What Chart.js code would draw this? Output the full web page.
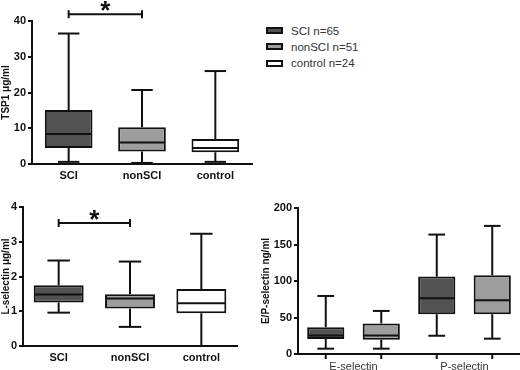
<!DOCTYPE html>
<html>
<head>
<meta charset="utf-8">
<script src="https://cdn.jsdelivr.net/npm/chart.js@4.4.1/dist/chart.umd.min.js"></script>
<style>
  body { margin: 0; background: #fff; }
  #page { position: relative; width: 520px; height: 370px; overflow: hidden; font-family: Arial, "Liberation Sans", sans-serif; }
  .panel { position: absolute; }
  #legend { position: absolute; left: 266px; top: 22.5px; font-size: 11.5px; color: #333; }
  .row { height: 16.3px; display: flex; align-items: center; }
  .swatch { width: 13px; height: 3px; border: 2px solid #111; margin-right: 8px; }
</style>
</head>
<body>
<div id="page">
  <canvas id="tsp" class="panel" width="260" height="185" style="left:0;top:0"></canvas>
  <canvas id="lsel" class="panel" width="260" height="185" style="left:0;top:185px"></canvas>
  <canvas id="epsel" class="panel" width="260" height="185" style="left:260px;top:185px"></canvas>
  <div id="legend"></div>
</div>
<script>
// groups and legend text
const groups = ['SCI', 'nonSCI', 'control'];
const legendLabels = ['SCI n=65', 'nonSCI n=51', 'control n=24'];
const groupColors = ['#525252', '#9d9d9d', '#ffffff'];

// TSP1 (ug/ml): whisker min, Q1, median, Q3, whisker max per group
const tspMin = [0.6, 0.3, 0.6];
const tspQ1 = [4.5, 3.5, 3.3];
const tspMed = [8.4, 6.0, 4.5];
const tspQ3 = [15.1, 10.3, 7.0];
const tspMax = [36.5, 20.7, 26.0];
const tspTicks = [0, 10, 20, 30, 40];

// L-selectin (ug/ml)
const lselMin = [0.96, 0.55, 0.0];
const lselQ1 = [1.25, 1.08, 0.94];
const lselMed = [1.48, 1.37, 1.23];
const lselQ3 = [1.75, 1.49, 1.64];
const lselMax = [2.46, 2.43, 3.23];
const lselTicks = [0, 1, 2, 3, 4];

// E/P-selectin (ng/ml), SCI and nonSCI only
const selLabels = ['E-selectin', 'P-selectin'];
const selSciMin = [7.3, 25];
const selSciQ1 = [20.5, 54.5];
const selSciMed = [25.5, 76.4];
const selSciQ3 = [36.8, 106];
const selSciMax = [79.5, 163.6];
const selNonMin = [7.3, 21];
const selNonQ1 = [19.5, 54.5];
const selNonMed = [25.5, 73.6];
const selNonQ3 = [41.8, 108];
const selNonMax = [59, 175.5];
const selTicks = [0, 50, 100, 150, 200];

Chart.defaults.font.family = "Arial, 'Liberation Sans', sans-serif";
Chart.defaults.color = '#111';

// whiskers, medians, caps and the significance bracket
const boxPlugin = {
  id: 'boxes',
  afterDatasetsDraw(chart, args, opts) {
    const ctx = chart.ctx, y = chart.scales.y;
    const line = (x1, y1, x2, y2) => { ctx.beginPath(); ctx.moveTo(x1, y1); ctx.lineTo(x2, y2); ctx.stroke(); };
    ctx.save();
    ctx.strokeStyle = '#111';
    ctx.lineWidth = 2;
    chart.data.datasets.forEach((ds, di) => {
      chart.getDatasetMeta(di).data.forEach((bar, i) => {
        const x = bar.x, w = bar.width, cap = w * 0.45;
        const pMin = y.getPixelForValue(ds.whiskerMin[i]);
        const pMax = y.getPixelForValue(ds.whiskerMax[i]);
        const pQ1 = y.getPixelForValue(ds.data[i][0]);
        const pQ3 = y.getPixelForValue(ds.data[i][1]);
        const pMed = y.getPixelForValue(ds.median[i]);
        line(x, pQ3, x, pMax);
        line(x, pQ1, x, pMin);
        line(x - cap / 2, pMax, x + cap / 2, pMax);
        line(x - cap / 2, pMin, x + cap / 2, pMin);
        line(x - w / 2 + 1, pMed, x + w / 2 - 1, pMed);
        if (opts.xTicks) line(x, y.bottom, x, y.bottom + 5);
      });
    });
    if (opts.sig) {
      const bars = chart.getDatasetMeta(0).data;
      const x1 = bars[opts.sig.from].x, x2 = bars[opts.sig.to].x;
      const py = y.getPixelForValue(opts.sig.value);
      line(x1, py, x2, py);
      line(x1, py - 4, x1, py + 4);
      line(x2, py - 4, x2, py + 4);
      ctx.fillStyle = '#111';
      ctx.font = "bold 26px Arial, 'Liberation Sans', sans-serif";
      ctx.textAlign = 'center';
      ctx.textBaseline = 'alphabetic';
      const m = ctx.measureText('*');
      const cy = py - 8;
      ctx.fillText('*', (x1 + x2) / 2, cy + (m.actualBoundingBoxAscent - m.actualBoundingBoxDescent) / 2);
    }
    ctx.restore();
  }
};

function boxSet(label, q1, q3, min, med, max, color) {
  return {
    label: label,
    data: q1.map((v, i) => [v, q3[i]]),
    whiskerMin: min,
    median: med,
    whiskerMax: max,
    backgroundColor: color,
    borderColor: '#111',
    borderWidth: 2,
    borderSkipped: false
  };
}

function makeChart(id, labels, datasets, o) {
  return new Chart(document.getElementById(id), {
    type: 'bar',
    data: { labels: labels, datasets: datasets },
    options: {
      responsive: false,
      animation: false,
      devicePixelRatio: 1,
      layout: { padding: { top: o.top, right: o.right, left: 0, bottom: 0 } },
      datasets: { bar: { barPercentage: o.barPct, categoryPercentage: 1 } },
      plugins: {
        legend: { display: false },
        tooltip: { enabled: false },
        boxes: { sig: o.sig, xTicks: o.xTicks }
      },
      scales: {
        x: {
          grid: { display: false, drawTicks: false },
          border: { color: '#111', width: 2 },
          ticks: { font: o.xFont, color: o.xColor, padding: o.xPad },
          afterFit: s => { s.height = o.xHeight; }
        },
        y: {
          min: o.ticks[0],
          max: o.ticks[o.ticks.length - 1],
          afterBuildTicks: s => { s.ticks = o.ticks.map(v => ({ value: v })); },
          grid: { display: true, drawOnChartArea: false, drawTicks: true, tickLength: 4, color: '#111', lineWidth: 2 },
          border: { color: '#111', width: 2 },
          ticks: { font: { size: 11, weight: 'bold' }, padding: 2 },
          title: { display: true, text: o.title, font: { size: 10, weight: 'bold' }, padding: 0 },
          afterFit: s => { s.width = o.yWidth; }
        }
      }
    },
    plugins: [boxPlugin]
  });
}

makeChart('tsp', groups,
  [boxSet('TSP1', tspQ1, tspQ3, tspMin, tspMed, tspMax, groupColors)],
  { ticks: tspTicks, title: 'TSP1 \u03bcg/ml', yWidth: 32, top: 21, right: 8, xHeight: 21, barPct: 0.65,
    xFont: { size: 11, weight: 'bold' }, xColor: '#111', xPad: 5, sig: { from: 0, to: 1, value: 41.9 } });

makeChart('lsel', groups,
  [boxSet('L-selectin', lselQ1, lselQ3, lselMin, lselMed, lselMax, groupColors)],
  { ticks: lselTicks, title: 'L-selectin \u03bcg/ml', yWidth: 23, top: 22, right: 23, xHeight: 24, barPct: 0.7,
    xFont: { size: 11, weight: 'bold' }, xColor: '#111', xPad: 5, sig: { from: 0, to: 1, value: 3.54 } });

makeChart('epsel', selLabels,
  [boxSet('SCI', selSciQ1, selSciQ3, selSciMin, selSciMed, selSciMax, groupColors[0]),
   boxSet('nonSCI', selNonQ1, selNonQ3, selNonMin, selNonMed, selNonMax, groupColors[1])],
  { ticks: selTicks, title: 'E/P-selectin ng/ml', yWidth: 38, top: 23, right: 0, xHeight: 16, barPct: 0.67,
    xFont: { size: 11 }, xColor: '#333', xPad: 6, xTicks: true });

// legend
const legend = document.getElementById('legend');
legendLabels.forEach((t, i) => {
  const row = document.createElement('div');
  row.className = 'row';
  const sw = document.createElement('span');
  sw.className = 'swatch';
  sw.style.background = groupColors[i];
  row.appendChild(sw);
  row.appendChild(document.createTextNode(t));
  legend.appendChild(row);
});
</script>
</body>
</html>
